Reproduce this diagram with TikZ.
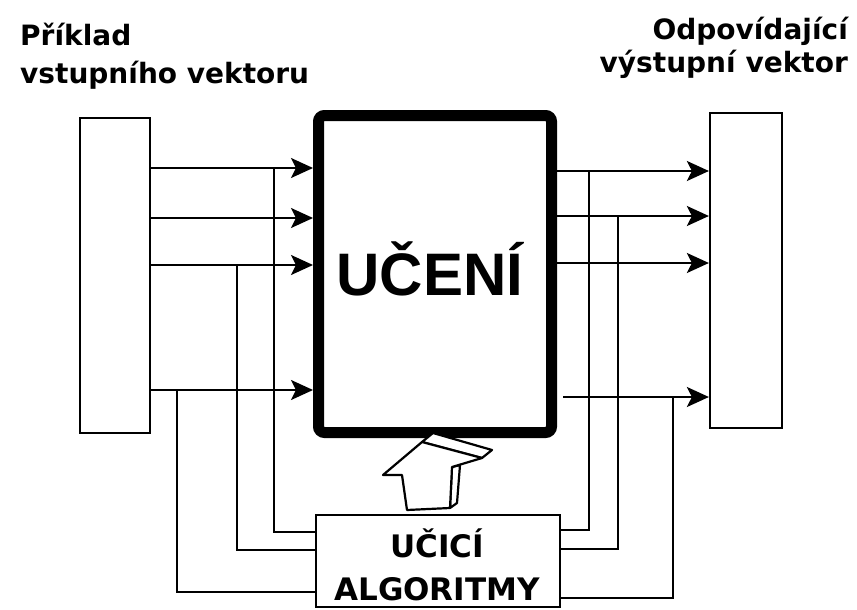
\documentclass[tikz,border=0pt]{standalone}
\usepackage{fontspec}
\setmainfont{DejaVu Sans}
\newfontfamily\arialfont{Liberation Sans}
\usetikzlibrary{arrows.meta,positioning,calc}

\begin{document}
\begin{tikzpicture}[x=1pt,y=-1pt,
  vecbox/.style={draw,line width=2.2pt,minimum width=70pt,minimum height=315pt,inner sep=0pt},
  conn/.style={line width=2.2pt},
  arr/.style={line width=2.2pt,-{Stealth[length=22pt,width=20pt,inset=5pt]}},
  labtext/.style={font=\fontsize{28}{39}\selectfont\bfseries,inner sep=0pt}]
  \useasboundingbox (0,0) rectangle (857,610);
  % vectors and the two blocks
  \node[vecbox] (inbox) at (115,275.5) {};
  \node[vecbox,minimum width=72pt] (outbox) at (746,270.5) {};
  \node[draw,line width=11pt,rounded corners=6pt,minimum width=233pt,minimum height=317pt] (learn) at (435,274) {};
  \node[anchor=base,inner sep=0pt,font=\arialfont\fontsize{60}{60}\selectfont\bfseries] (learntext) at (430,295) {UČENÍ};
  \node[draw,line width=2.2pt,minimum width=244pt,minimum height=92pt] (algo) at (438,561) {};
  \node[anchor=base,inner sep=0pt,align=center,font=\fontsize{31}{43}\selectfont\bfseries] (algotext) at (437,600) {UČICÍ\\ALGORITMY};
  % labels
  \node[labtext,anchor=base west,align=left] (inlab) at (20,84) {Příklad\\vstupního vektoru};
  \node[labtext,anchor=base east,align=right,font=\fontsize{28}{33}\selectfont\bfseries] (outlab) at (848,73) {Odpovídající\\výstupní vektor};
  % input arrows
  \coordinate (l1) at (0,168);
  \coordinate (l2) at (0,218);
  \coordinate (l3) at (0,265);
  \coordinate (l4) at (0,390);
  \foreach \c in {l1,l2,l3,l4}
    \draw[arr] (inbox.east |- \c) -- (learn.west |- \c);
  % output arrows
  \coordinate (r1) at (0,171);
  \coordinate (r2) at (0,216);
  \coordinate (r3) at (0,263);
  \foreach \c in {r1,r2,r3}
    \draw[arr] (learn.east |- \c) -- (outbox.west |- \c);
  \coordinate (r4) at (563,397);
  \draw[arr] (r4) -- (outbox.west |- r4);
  % feedback to the algorithm
  \coordinate (t1) at (274,168);
  \coordinate (t2) at (237,265);
  \coordinate (t3) at (177,390);
  \draw[conn] (t1) |- ([yshift=29pt]algo.west);
  \draw[conn] (t2) |- ([yshift=11pt]algo.west);
  \draw[conn] (t3) |- ([yshift=-31pt]algo.west);
  \coordinate (u1) at (589,171);
  \coordinate (u2) at (618,216);
  \coordinate (u3) at (673,397);
  \draw[conn] (u1) |- ([yshift=31pt]algo.east);
  \draw[conn] (u2) |- ([yshift=12pt]algo.east);
  \draw[conn] (u3) |- ([yshift=-37pt]algo.east);
  % hollow arrow
  \draw[line width=2.2pt,fill=white,line join=round]
    (422,442) -- (433,433) -- (492,450) -- (482,458) -- cycle;
  \draw[line width=2.2pt,fill=white,line join=round]
    (452,467) -- (460,465) -- (457,503) -- (450,508) -- cycle;
  \draw[line width=2.2pt,fill=white,line join=round]
    (383,475) -- (422,442) -- (482,458) -- (452,467) -- (450,508) -- (407,510) -- (402,475) -- cycle;
\end{tikzpicture}
\end{document}
